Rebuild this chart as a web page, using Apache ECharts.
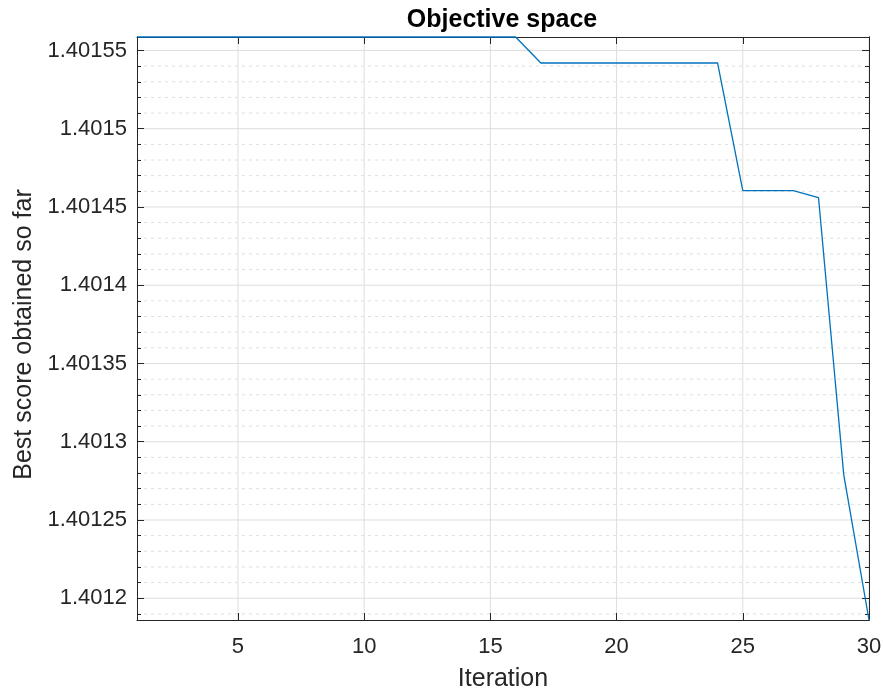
<!DOCTYPE html>
<html>
<head>
<meta charset="utf-8">
<title>Objective space</title>
<script src="https://cdn.jsdelivr.net/npm/echarts@6/dist/echarts.min.js"></script>
<style>
  html, body { margin: 0; padding: 0; background: #ffffff; }
  #chart { width: 883px; height: 693px; }
</style>
</head>
<body>
<div id="chart"></div>
<script>
// Convergence curve: best score found after each iteration
const iterations = [1,2,3,4,5,6,7,8,9,10,11,12,13,14,15,16,17,18,19,20,21,22,23,24,25,26,27,28,29,30];
const bestScores = [
  1.4015586, 1.4015586, 1.4015586, 1.4015586, 1.4015586, 1.4015586, 1.4015586, 1.4015586,
  1.4015586, 1.4015586, 1.4015586, 1.4015586, 1.4015586, 1.4015586, 1.4015586, 1.4015586,
  1.4015420, 1.4015420, 1.4015420, 1.4015420, 1.4015420, 1.4015420, 1.4015420, 1.4015420,
  1.4014604, 1.4014604, 1.4014604, 1.4014559, 1.4012788, 1.4011861
];
const xTickLabels = ['5', '10', '15', '20', '25', '30'];
const yTickLabels = ['1.4012', '1.40125', '1.4013', '1.40135', '1.4014', '1.40145', '1.4015', '1.40155'];

const xTicks = xTickLabels.map(Number);
const yTicks = yTickLabels.map(Number);
const yMin = Math.min(...bestScores);
const yMax = Math.max(...bestScores);
const xMin = iterations[0];
const xMax = iterations[iterations.length - 1];

// minor ticks every 1e-5 inside the visible range
const yMinor = [];
for (let k = Math.ceil(yMin / 1e-5 - 1e-6); k * 1e-5 <= yMax + 1e-12; k++) {
  yMinor.push(+(k * 1e-5).toFixed(5));
}

const FONT = '"Liberation Sans", Arial, Helvetica, sans-serif';
const TXT = '#262626';
const AXIS = '#262626';
const GRID = '#dedede';

const chart = echarts.init(document.getElementById('chart'), null, { renderer: 'canvas' });

function yAxisDef(pos, ticks, len, withLabels) {
  return {
    type: 'value', position: pos, min: yMin, max: yMax, z: 2,
    axisLine: { show: true, onZero: false, lineStyle: { color: AXIS, width: 1 } },
    axisTick: { show: true, inside: true, length: len, customValues: ticks, lineStyle: { color: AXIS, width: 1 } },
    axisLabel: withLabels ? {
      show: true, customValues: yTicks, margin: 10, fontSize: 22, fontFamily: FONT, color: TXT,
      formatter: v => yTickLabels[yTicks.findIndex(t => Math.abs(t - v) < 1e-9)] ?? String(v)
    } : { show: false },
    splitLine: { show: false },
    minorTick: { show: false }, minorSplitLine: { show: false }
  };
}

function xAxisDef(pos, withLabels) {
  return {
    type: 'value', position: pos, min: xMin, max: xMax, z: 2,
    axisLine: { show: true, onZero: false, lineStyle: { color: AXIS, width: 1 } },
    axisTick: { show: true, inside: true, length: 7, customValues: xTicks, lineStyle: { color: AXIS, width: 1 } },
    axisLabel: withLabels ? { show: true, customValues: xTicks, margin: 16, fontSize: 22, fontFamily: FONT, color: TXT } : { show: false },
    splitLine: { show: false }
  };
}

// grid lines as plain line series: vertical at x ticks, horizontal solid majors / dashed minors
function gridSeries(points, dashed) {
  return {
    type: 'line', xAxisIndex: 0, yAxisIndex: 0, z: 1, silent: true, clip: true,
    data: points, showSymbol: false, symbol: 'none', animation: false,
    lineStyle: { color: GRID, width: 1, type: dashed ? [3, 4] : 'solid' },
    tooltip: { show: false }, emphasis: { disabled: true }
  };
}
const gridLineSeries = [];
xTicks.forEach(v => gridLineSeries.push(gridSeries([[v, yMin], [v, yMax]], false)));
yMinor.forEach(v => {
  const major = yTicks.some(t => Math.abs(t - v) < 1e-9);
  gridLineSeries.push(gridSeries([[xMin, v], [xMax, v]], !major));
});

const xBottom = xAxisDef('bottom', true);
xBottom.name = 'Iteration';
xBottom.nameLocation = 'middle';
xBottom.nameGap = 47;
xBottom.nameTextStyle = { fontSize: 25, fontFamily: FONT, color: TXT };

const yLeft = yAxisDef('left', yTicks, 7, true);
yLeft.name = 'Best score obtained so far';
yLeft.nameLocation = 'middle';
yLeft.nameGap = 98;
yLeft.nameTextStyle = { fontSize: 25, fontFamily: FONT, color: TXT, padding: [0, 12, 0, 0] };

chart.setOption({
  backgroundColor: '#ffffff',
  animation: false,
  title: {
    text: 'Objective space',
    left: 497, top: 3, textAlign: 'center',
    textStyle: { fontSize: 25, fontWeight: 'bold', fontFamily: FONT, color: '#000000' }
  },
  grid: { left: 137, right: 14, top: 37, bottom: 73, containLabel: false, outerBoundsMode: 'none' },
  xAxis: [xBottom, xAxisDef('top', false)],
  yAxis: [
    yLeft,
    yAxisDef('left', yMinor, 4, false),
    yAxisDef('right', yTicks, 7, false),
    yAxisDef('right', yMinor, 4, false)
  ],
  series: gridLineSeries.concat([
    {
      name: 'Best score', type: 'line', xAxisIndex: 0, yAxisIndex: 0, z: 5,
      data: iterations.map((it, i) => [it, bestScores[i]]),
      showSymbol: false, clip: false,
      lineStyle: { color: '#0072BD', width: 1.3 }
    }
  ])
});
</script>
</body>
</html>
